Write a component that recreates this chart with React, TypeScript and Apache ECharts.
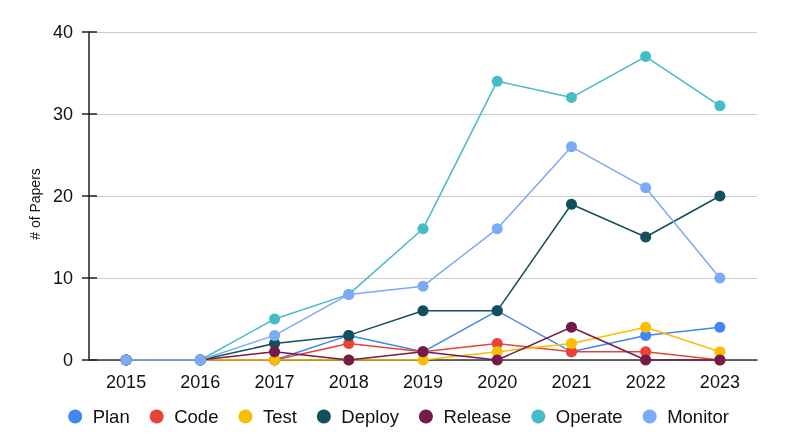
import React, { useEffect, useRef } from "react";
import * as echarts from "echarts";

const years = ["2015", "2016", "2017", "2018", "2019", "2020", "2021", "2022", "2023"];
const seriesNames = ["Plan", "Code", "Test", "Deploy", "Release", "Operate", "Monitor"];
const colors = ["#4285F4", "#EA4335", "#FBBC04", "#134F5C", "#741B47", "#46BDC6", "#7BAAF7"];
const plan = [0, 0, 0, 3, 1, 6, 1, 3, 4];
const code = [0, 0, 0, 2, 1, 2, 1, 1, 0];
const test = [0, 0, 0, 0, 0, 1, 2, 4, 1];
const deploy = [0, 0, 2, 3, 6, 6, 19, 15, 20];
const release = [0, 0, 1, 0, 1, 0, 4, 0, 0];
const operate = [0, 0, 5, 8, 16, 34, 32, 37, 31];
const monitor = [0, 0, 3, 8, 9, 16, 26, 21, 10];
const allData = [plan, code, test, deploy, release, operate, monitor];

export default function App() {
  const ref = useRef<HTMLDivElement>(null);
  useEffect(() => {
    if (!ref.current) return;
    const chart = echarts.init(ref.current, undefined, { renderer: "svg" });
    const font = "Arial, 'Liberation Sans', sans-serif";
    chart.setOption({
      animation: false,
      color: colors,
      textStyle: { fontFamily: font },
      grid: { left: 89, right: 40, top: 32, bottom: 85, containLabel: false },
      legend: {
        data: seriesNames,
        top: 402,
        left: "center",
        icon: "circle",
        itemWidth: 25,
        itemHeight: 14,
        itemGap: 20,
        textStyle: { fontSize: 18.5, color: "#111", fontFamily: font },
      },
      xAxis: {
        type: "category",
        data: years,
        boundaryGap: true,
        axisLine: { onZero: false, lineStyle: { color: "#333", width: 1.5 } },
        axisTick: { show: false },
        axisLabel: { fontSize: 18, color: "#111", margin: 13, fontFamily: font },
      },
      yAxis: [
        {
          type: "value",
          position: "left",
          min: 0,
          max: 40,
          interval: 10,
          name: "# of Papers",
          nameLocation: "middle",
          nameGap: 44,
          nameTextStyle: { fontSize: 14, color: "#111", padding: [0, 16, 0, 0], fontFamily: font },
          axisLine: { show: true, onZero: false, lineStyle: { color: "#222", width: 1.5 } },
          axisTick: { show: true, length: 7, lineStyle: { color: "#222", width: 1.5 } },
          axisLabel: { fontSize: 18, color: "#111", margin: 16, fontFamily: font },
          splitLine: { show: true, lineStyle: { color: "#cccccc", width: 1 } },
        },
        {
          type: "value",
          position: "left",
          min: 0,
          max: 40,
          interval: 10,
          axisLine: { show: false, onZero: false },
          axisTick: { show: true, inside: true, length: 8, lineStyle: { color: "#222", width: 1.5 } },
          axisLabel: { show: false },
          splitLine: { show: false },
        },
      ],
      series: seriesNames.map((name, i) => ({
        name,
        type: "line",
        data: allData[i],
        yAxisIndex: 0,
        symbol: "circle",
        symbolSize: 11,
        showSymbol: true,
        lineStyle: { width: 1.5, color: colors[i] },
        itemStyle: { color: colors[i] },
      })),
    });
    return () => chart.dispose();
  }, []);
  return (
    <div
      ref={ref}
      style={{ position: "fixed", left: 0, top: 0, width: 797, height: 445 }}
    />
  );
}
